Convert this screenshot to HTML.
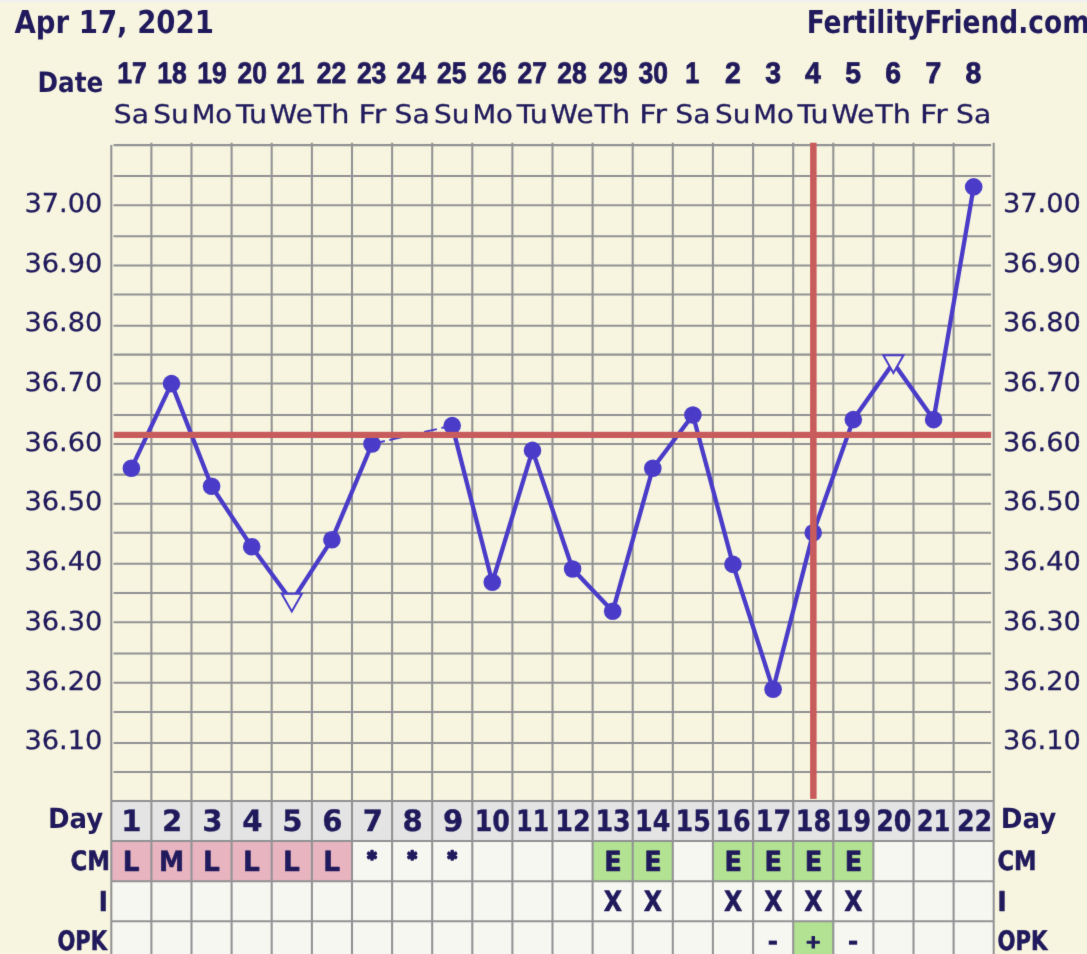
<!DOCTYPE html>
<html lang="en"><head><meta charset="utf-8"><title>FertilityFriend.com chart - Apr 17, 2021</title>
<style>
html,body{margin:0;padding:0;background:#f7f5df;overflow:hidden}
svg{display:block}
text{fill:#201a5c;stroke-linejoin:round;text-rendering:geometricPrecision}
.t{font-family:"DejaVu Sans Condensed","DejaVu Sans","Liberation Sans",sans-serif;font-weight:bold}
.b{font-family:"Liberation Sans","DejaVu Sans",sans-serif;font-weight:bold}
.r{font-family:"DejaVu Sans","Liberation Sans",sans-serif}
.g{stroke:#929294;stroke-width:2.05;fill:none}
</style></head><body>
<svg width="1087" height="954" viewBox="0 0 1087 954">
<defs><filter id="soft" color-interpolation-filters="sRGB" filterUnits="userSpaceOnUse" x="-30" y="-30" width="1147" height="1014"><feConvolveMatrix order="3" kernelMatrix="0.0081 0.0738 0.0081 0.0738 0.6724 0.0738 0.0081 0.0738 0.0081" divisor="1" edgeMode="duplicate" preserveAlpha="true"/></filter></defs>
<g filter="url(#soft)">
<rect x="-30" y="-30" width="1147" height="1014" fill="#f7f5df"/>
<rect x="-30" y="-30" width="1147" height="32" fill="#f0f0f0"/>
<rect x="111.3" y="801.0" width="882.4" height="39.9" fill="#e4e4e4"/>
<rect x="111.3" y="840.9" width="882.4" height="143.1" fill="#f7f7f2"/>
<rect x="111.3" y="840.9" width="240.7" height="40.4" fill="#e8b4c0"/>
<rect x="592.6" y="840.9" width="80.2" height="40.4" fill="#b2e292"/>
<rect x="712.9" y="840.9" width="160.4" height="40.4" fill="#b2e292"/>
<rect x="793.2" y="921.3" width="40.1" height="62.7" fill="#b2e292"/>
<path class="g" d="M113.5 145.1H991.1M113.5 176.0H991.1M113.5 205.2H991.1M113.5 236.2H991.1M113.5 265.4H991.1M113.5 294.4H991.1M113.5 325.7H991.1M113.5 354.6H991.1M113.5 383.4H991.1M113.5 414.9H991.1M113.5 444.0H991.1M113.5 474.6H991.1M113.5 503.8H991.1M113.5 532.7H991.1M113.5 563.8H991.1M113.5 592.9H991.1M113.5 622.2H991.1M113.5 653.5H991.1M113.5 682.8H991.1M113.5 712.0H991.1M113.5 742.9H991.1M113.5 771.9H991.1M111.3 801.0H993.7M111.3 840.9H993.7M111.3 881.3H993.7M111.3 921.3H993.7M151.4 142.7V984M191.5 142.7V984M231.6 142.7V984M271.7 142.7V984M311.9 142.7V984M352.0 142.7V984M392.1 142.7V984M432.2 142.7V984M472.3 142.7V984M512.4 142.7V984M552.5 142.7V984M592.6 142.7V984M632.7 142.7V984M672.8 142.7V984M712.9 142.7V984M753.1 142.7V984M793.2 142.7V984M833.3 142.7V984M873.4 142.7V984M913.5 142.7V984M953.6 142.7V984M111.3 145V984M993.7 142.7V984"/>
<polyline points="131.4,468.3 171.5,383.6 211.6,486.2 251.7,546.7 291.8,601.3 331.9,539.7 372.0,444.0" fill="none" stroke="#4a3cc8" stroke-width="4.3" stroke-linejoin="round"/>
<polyline points="452.2,425.6 492.3,582.3 532.5,450.4 572.6,569.0 612.7,611.3 652.8,468.3 692.9,415.0 733.0,564.4 773.1,689.3 813.2,532.8 853.3,419.6 893.4,362.8 933.6,419.6 973.7,186.9" fill="none" stroke="#4a3cc8" stroke-width="4.3" stroke-linejoin="round"/>
<line x1="372.0" y1="444.0" x2="452.2" y2="425.6" stroke="#4a3cc8" stroke-width="2" stroke-dasharray="13.2 4.6"/>
<circle cx="131.4" cy="468.3" r="8.8" fill="#4a3cc8"/>
<circle cx="171.5" cy="383.6" r="8.8" fill="#4a3cc8"/>
<circle cx="211.6" cy="486.2" r="8.8" fill="#4a3cc8"/>
<circle cx="251.7" cy="546.7" r="8.8" fill="#4a3cc8"/>
<path d="M281.7 593.8L301.9 593.8L291.8 611.4Z" fill="#f7f5df" stroke="#4a3cc8" stroke-width="2"/>
<circle cx="331.9" cy="539.7" r="8.8" fill="#4a3cc8"/>
<circle cx="372.0" cy="444.0" r="8.8" fill="#4a3cc8"/>
<circle cx="452.2" cy="425.6" r="8.8" fill="#4a3cc8"/>
<circle cx="492.3" cy="582.3" r="8.8" fill="#4a3cc8"/>
<circle cx="532.5" cy="450.4" r="8.8" fill="#4a3cc8"/>
<circle cx="572.6" cy="569.0" r="8.8" fill="#4a3cc8"/>
<circle cx="612.7" cy="611.3" r="8.8" fill="#4a3cc8"/>
<circle cx="652.8" cy="468.3" r="8.8" fill="#4a3cc8"/>
<circle cx="692.9" cy="415.0" r="8.8" fill="#4a3cc8"/>
<circle cx="733.0" cy="564.4" r="8.8" fill="#4a3cc8"/>
<circle cx="773.1" cy="689.3" r="8.8" fill="#4a3cc8"/>
<circle cx="813.2" cy="532.8" r="8.8" fill="#4a3cc8"/>
<circle cx="853.3" cy="419.6" r="8.8" fill="#4a3cc8"/>
<path d="M883.3 355.3L903.5 355.3L893.4 372.9Z" fill="#f7f5df" stroke="#4a3cc8" stroke-width="2"/>
<circle cx="933.6" cy="419.6" r="8.8" fill="#4a3cc8"/>
<circle cx="973.7" cy="186.9" r="8.8" fill="#4a3cc8"/>
<rect x="113.7" y="431.8" width="877.4" height="6.2" fill="#c85c5c"/>
<rect x="810.1" y="142.7" width="6.5" height="656.2" fill="#c85c5c"/>
<text class="t" font-size="19" text-anchor="middle" x="372.0" y="864.8" stroke="#201a5c" stroke-width="2.2">*</text>
<text class="t" font-size="19" text-anchor="middle" x="412.1" y="864.8" stroke="#201a5c" stroke-width="2.2">*</text>
<text class="t" font-size="19" text-anchor="middle" x="452.2" y="864.8" stroke="#201a5c" stroke-width="2.2">*</text>
<text class="t" font-size="31.53" transform="translate(14.45 33.44) scale(0.9725 1)">Apr 17, 2021</text>
<text class="t" font-size="31.69" transform="translate(806.70 33.39) scale(0.9276 1)">FertilityFriend.com</text>
<text class="t" font-size="28.05" transform="translate(37.56 91.68) scale(0.9805 1)">Date</text>
<text class="b" font-size="29.90" transform="translate(117.25 83.20) scale(0.8850 1)" stroke="#201a5c" stroke-width="0.84">17</text>
<text class="b" font-size="29.90" transform="translate(157.17 83.20) scale(0.8850 1)" stroke="#201a5c" stroke-width="0.84">18</text>
<text class="b" font-size="29.90" transform="translate(197.34 83.20) scale(0.8850 1)" stroke="#201a5c" stroke-width="0.84">19</text>
<text class="b" font-size="29.90" transform="translate(237.52 83.20) scale(0.8850 1)" stroke="#201a5c" stroke-width="0.84">20</text>
<text class="b" font-size="29.90" transform="translate(276.80 83.20) scale(0.8300 1)" stroke="#201a5c" stroke-width="0.84">21</text>
<text class="b" font-size="29.90" transform="translate(316.84 83.20) scale(0.8850 1)" stroke="#201a5c" stroke-width="0.84">22</text>
<text class="b" font-size="29.90" transform="translate(356.88 83.20) scale(0.8850 1)" stroke="#201a5c" stroke-width="0.84">23</text>
<text class="b" font-size="29.90" transform="translate(396.59 83.20) scale(0.8850 1)" stroke="#201a5c" stroke-width="0.84">24</text>
<text class="b" font-size="29.90" transform="translate(436.97 83.20) scale(0.8850 1)" stroke="#201a5c" stroke-width="0.84">25</text>
<text class="b" font-size="29.90" transform="translate(477.21 83.20) scale(0.8850 1)" stroke="#201a5c" stroke-width="0.84">26</text>
<text class="b" font-size="29.90" transform="translate(517.45 83.20) scale(0.8850 1)" stroke="#201a5c" stroke-width="0.84">27</text>
<text class="b" font-size="29.90" transform="translate(557.36 83.20) scale(0.8850 1)" stroke="#201a5c" stroke-width="0.84">28</text>
<text class="b" font-size="29.90" transform="translate(598.19 83.20) scale(0.8850 1)" stroke="#201a5c" stroke-width="0.84">29</text>
<text class="b" font-size="29.90" transform="translate(638.60 83.20) scale(0.8850 1)" stroke="#201a5c" stroke-width="0.84">30</text>
<text class="b" font-size="29.90" transform="translate(685.20 83.20) scale(0.8500 1)" stroke="#201a5c" stroke-width="0.84">1</text>
<text class="b" font-size="29.90" transform="translate(724.99 83.20) scale(0.9500 1)" stroke="#201a5c" stroke-width="0.84">2</text>
<text class="b" font-size="29.90" transform="translate(765.17 83.20) scale(0.9500 1)" stroke="#201a5c" stroke-width="0.84">3</text>
<text class="b" font-size="29.90" transform="translate(805.00 83.20) scale(0.9500 1)" stroke="#201a5c" stroke-width="0.84">4</text>
<text class="b" font-size="29.90" transform="translate(845.25 83.20) scale(0.9500 1)" stroke="#201a5c" stroke-width="0.84">5</text>
<text class="b" font-size="29.90" transform="translate(885.29 83.20) scale(0.9500 1)" stroke="#201a5c" stroke-width="0.84">6</text>
<text class="b" font-size="29.90" transform="translate(925.47 83.20) scale(0.9500 1)" stroke="#201a5c" stroke-width="0.84">7</text>
<text class="b" font-size="29.90" transform="translate(965.51 83.20) scale(0.9500 1)" stroke="#201a5c" stroke-width="0.84">8</text>
<text class="r" font-size="25.70" transform="translate(113.77 122.60) scale(1.0980 1)" stroke="#201a5c" stroke-width="0.31">Sa</text>
<text class="r" font-size="25.70" transform="translate(153.34 122.60) scale(1.0890 1)" stroke="#201a5c" stroke-width="0.31">Su</text>
<text class="r" font-size="25.70" transform="translate(191.68 122.60) scale(1.0680 1)" stroke="#201a5c" stroke-width="0.31">Mo</text>
<text class="r" font-size="25.70" transform="translate(235.88 122.60) scale(1.1130 1)" stroke="#201a5c" stroke-width="0.31">Tu</text>
<text class="r" font-size="25.70" transform="translate(269.84 122.60) scale(1.0810 1)" stroke="#201a5c" stroke-width="0.31">We</text>
<text class="r" font-size="25.70" transform="translate(313.63 122.60) scale(1.1170 1)" stroke="#201a5c" stroke-width="0.31">Th</text>
<text class="r" font-size="25.70" transform="translate(358.47 122.60) scale(1.1820 1)" stroke="#201a5c" stroke-width="0.31">Fr</text>
<text class="r" font-size="25.70" transform="translate(394.54 122.60) scale(1.0980 1)" stroke="#201a5c" stroke-width="0.31">Sa</text>
<text class="r" font-size="25.70" transform="translate(434.11 122.60) scale(1.0890 1)" stroke="#201a5c" stroke-width="0.31">Su</text>
<text class="r" font-size="25.70" transform="translate(472.45 122.60) scale(1.0680 1)" stroke="#201a5c" stroke-width="0.31">Mo</text>
<text class="r" font-size="25.70" transform="translate(516.65 122.60) scale(1.1130 1)" stroke="#201a5c" stroke-width="0.31">Tu</text>
<text class="r" font-size="25.70" transform="translate(550.61 122.60) scale(1.0810 1)" stroke="#201a5c" stroke-width="0.31">We</text>
<text class="r" font-size="25.70" transform="translate(594.40 122.60) scale(1.1170 1)" stroke="#201a5c" stroke-width="0.31">Th</text>
<text class="r" font-size="25.70" transform="translate(639.24 122.60) scale(1.1820 1)" stroke="#201a5c" stroke-width="0.31">Fr</text>
<text class="r" font-size="25.70" transform="translate(675.31 122.60) scale(1.0980 1)" stroke="#201a5c" stroke-width="0.31">Sa</text>
<text class="r" font-size="25.70" transform="translate(714.88 122.60) scale(1.0890 1)" stroke="#201a5c" stroke-width="0.31">Su</text>
<text class="r" font-size="25.70" transform="translate(753.22 122.60) scale(1.0680 1)" stroke="#201a5c" stroke-width="0.31">Mo</text>
<text class="r" font-size="25.70" transform="translate(797.42 122.60) scale(1.1130 1)" stroke="#201a5c" stroke-width="0.31">Tu</text>
<text class="r" font-size="25.70" transform="translate(831.38 122.60) scale(1.0810 1)" stroke="#201a5c" stroke-width="0.31">We</text>
<text class="r" font-size="25.70" transform="translate(875.17 122.60) scale(1.1170 1)" stroke="#201a5c" stroke-width="0.31">Th</text>
<text class="r" font-size="25.70" transform="translate(920.01 122.60) scale(1.1820 1)" stroke="#201a5c" stroke-width="0.31">Fr</text>
<text class="r" font-size="25.70" transform="translate(956.08 122.60) scale(1.0980 1)" stroke="#201a5c" stroke-width="0.31">Sa</text>
<text class="r" font-size="26.10" transform="translate(24.39 211.78) scale(1.0426 1)" stroke="#201a5c" stroke-width="0.31">37.00</text>
<text class="r" font-size="26.10" transform="translate(1002.99 211.78) scale(1.0426 1)" stroke="#201a5c" stroke-width="0.31">37.00</text>
<text class="r" font-size="26.10" transform="translate(24.39 271.50) scale(1.0426 1)" stroke="#201a5c" stroke-width="0.31">36.90</text>
<text class="r" font-size="26.10" transform="translate(1002.99 271.50) scale(1.0426 1)" stroke="#201a5c" stroke-width="0.31">36.90</text>
<text class="r" font-size="26.10" transform="translate(24.39 331.22) scale(1.0426 1)" stroke="#201a5c" stroke-width="0.31">36.80</text>
<text class="r" font-size="26.10" transform="translate(1002.99 331.22) scale(1.0426 1)" stroke="#201a5c" stroke-width="0.31">36.80</text>
<text class="r" font-size="26.10" transform="translate(24.39 390.94) scale(1.0426 1)" stroke="#201a5c" stroke-width="0.31">36.70</text>
<text class="r" font-size="26.10" transform="translate(1002.99 390.94) scale(1.0426 1)" stroke="#201a5c" stroke-width="0.31">36.70</text>
<text class="r" font-size="26.10" transform="translate(24.39 450.66) scale(1.0426 1)" stroke="#201a5c" stroke-width="0.31">36.60</text>
<text class="r" font-size="26.10" transform="translate(1002.99 450.66) scale(1.0426 1)" stroke="#201a5c" stroke-width="0.31">36.60</text>
<text class="r" font-size="26.10" transform="translate(24.39 510.38) scale(1.0426 1)" stroke="#201a5c" stroke-width="0.31">36.50</text>
<text class="r" font-size="26.10" transform="translate(1002.99 510.38) scale(1.0426 1)" stroke="#201a5c" stroke-width="0.31">36.50</text>
<text class="r" font-size="26.10" transform="translate(24.39 570.10) scale(1.0426 1)" stroke="#201a5c" stroke-width="0.31">36.40</text>
<text class="r" font-size="26.10" transform="translate(1002.99 570.10) scale(1.0426 1)" stroke="#201a5c" stroke-width="0.31">36.40</text>
<text class="r" font-size="26.10" transform="translate(24.39 629.82) scale(1.0426 1)" stroke="#201a5c" stroke-width="0.31">36.30</text>
<text class="r" font-size="26.10" transform="translate(1002.99 629.82) scale(1.0426 1)" stroke="#201a5c" stroke-width="0.31">36.30</text>
<text class="r" font-size="26.10" transform="translate(24.39 689.54) scale(1.0426 1)" stroke="#201a5c" stroke-width="0.31">36.20</text>
<text class="r" font-size="26.10" transform="translate(1002.99 689.54) scale(1.0426 1)" stroke="#201a5c" stroke-width="0.31">36.20</text>
<text class="r" font-size="26.10" transform="translate(24.39 749.26) scale(1.0426 1)" stroke="#201a5c" stroke-width="0.31">36.10</text>
<text class="r" font-size="26.10" transform="translate(1002.99 749.26) scale(1.0426 1)" stroke="#201a5c" stroke-width="0.31">36.10</text>
<text class="t" font-size="29.40" transform="translate(121.20 831.00) scale(1.1000 1)" stroke="#201a5c" stroke-width="0.35">1</text>
<text class="t" font-size="29.40" transform="translate(162.04 831.00) scale(1.1000 1)" stroke="#201a5c" stroke-width="0.35">2</text>
<text class="t" font-size="29.40" transform="translate(202.23 831.00) scale(1.1000 1)" stroke="#201a5c" stroke-width="0.35">3</text>
<text class="t" font-size="29.40" transform="translate(242.18 831.00) scale(1.1000 1)" stroke="#201a5c" stroke-width="0.35">4</text>
<text class="t" font-size="29.40" transform="translate(282.13 831.00) scale(1.1000 1)" stroke="#201a5c" stroke-width="0.35">5</text>
<text class="t" font-size="29.40" transform="translate(322.24 831.00) scale(1.1000 1)" stroke="#201a5c" stroke-width="0.35">6</text>
<text class="t" font-size="29.40" transform="translate(362.67 831.00) scale(1.1000 1)" stroke="#201a5c" stroke-width="0.35">7</text>
<text class="t" font-size="29.40" transform="translate(402.62 831.00) scale(1.1000 1)" stroke="#201a5c" stroke-width="0.35">8</text>
<text class="t" font-size="29.40" transform="translate(442.89 831.00) scale(1.1000 1)" stroke="#201a5c" stroke-width="0.35">9</text>
<text class="t" font-size="29.40" transform="translate(474.66 831.00) scale(0.9600 1)" stroke="#201a5c" stroke-width="0.35">10</text>
<text class="t" font-size="29.40" transform="translate(516.28 831.00) scale(0.8900 1)" stroke="#201a5c" stroke-width="0.35">11</text>
<text class="t" font-size="29.40" transform="translate(555.37 831.00) scale(0.9600 1)" stroke="#201a5c" stroke-width="0.35">12</text>
<text class="t" font-size="29.40" transform="translate(595.41 831.00) scale(0.9600 1)" stroke="#201a5c" stroke-width="0.35">13</text>
<text class="t" font-size="29.40" transform="translate(635.10 831.00) scale(0.9600 1)" stroke="#201a5c" stroke-width="0.35">14</text>
<text class="t" font-size="29.40" transform="translate(675.49 831.00) scale(0.9600 1)" stroke="#201a5c" stroke-width="0.35">15</text>
<text class="t" font-size="29.40" transform="translate(715.39 831.00) scale(0.9600 1)" stroke="#201a5c" stroke-width="0.35">16</text>
<text class="t" font-size="29.40" transform="translate(755.85 831.00) scale(0.9600 1)" stroke="#201a5c" stroke-width="0.35">17</text>
<text class="t" font-size="29.40" transform="translate(795.75 831.00) scale(0.9600 1)" stroke="#201a5c" stroke-width="0.35">18</text>
<text class="t" font-size="29.40" transform="translate(835.86 831.00) scale(0.9600 1)" stroke="#201a5c" stroke-width="0.35">19</text>
<text class="t" font-size="29.40" transform="translate(876.18 831.00) scale(0.9600 1)" stroke="#201a5c" stroke-width="0.35">20</text>
<text class="t" font-size="29.40" transform="translate(916.71 831.00) scale(0.9150 1)" stroke="#201a5c" stroke-width="0.35">21</text>
<text class="t" font-size="29.40" transform="translate(956.90 831.00) scale(0.9600 1)" stroke="#201a5c" stroke-width="0.35">22</text>
<text class="t" font-size="27.87" transform="translate(122.66 870.72) scale(1.0507 1)" stroke="#201a5c" stroke-width="0.56">L</text>
<text class="t" font-size="27.87" transform="translate(159.11 870.72) scale(1.0067 1)" stroke="#201a5c" stroke-width="0.56">M</text>
<text class="t" font-size="27.87" transform="translate(202.88 870.72) scale(1.0507 1)" stroke="#201a5c" stroke-width="0.56">L</text>
<text class="t" font-size="27.87" transform="translate(242.99 870.72) scale(1.0507 1)" stroke="#201a5c" stroke-width="0.56">L</text>
<text class="t" font-size="27.87" transform="translate(283.10 870.72) scale(1.0507 1)" stroke="#201a5c" stroke-width="0.56">L</text>
<text class="t" font-size="27.87" transform="translate(323.21 870.72) scale(1.0507 1)" stroke="#201a5c" stroke-width="0.56">L</text>
<text class="t" font-size="27.87" transform="translate(604.14 870.72) scale(1.0211 1)" stroke="#201a5c" stroke-width="0.56">E</text>
<text class="t" font-size="27.87" transform="translate(644.25 870.72) scale(1.0211 1)" stroke="#201a5c" stroke-width="0.56">E</text>
<text class="t" font-size="27.87" transform="translate(724.47 870.72) scale(1.0211 1)" stroke="#201a5c" stroke-width="0.56">E</text>
<text class="t" font-size="27.87" transform="translate(764.58 870.72) scale(1.0211 1)" stroke="#201a5c" stroke-width="0.56">E</text>
<text class="t" font-size="27.87" transform="translate(804.69 870.72) scale(1.0211 1)" stroke="#201a5c" stroke-width="0.56">E</text>
<text class="t" font-size="27.87" transform="translate(844.80 870.72) scale(1.0211 1)" stroke="#201a5c" stroke-width="0.56">E</text>
<text class="t" font-size="28.00" transform="translate(603.71 911.02) scale(0.9418 1)" stroke="#201a5c" stroke-width="0.56">X</text>
<text class="t" font-size="28.00" transform="translate(643.82 911.02) scale(0.9418 1)" stroke="#201a5c" stroke-width="0.56">X</text>
<text class="t" font-size="28.00" transform="translate(724.04 911.02) scale(0.9418 1)" stroke="#201a5c" stroke-width="0.56">X</text>
<text class="t" font-size="28.00" transform="translate(764.15 911.02) scale(0.9418 1)" stroke="#201a5c" stroke-width="0.56">X</text>
<text class="t" font-size="28.00" transform="translate(804.26 911.02) scale(0.9418 1)" stroke="#201a5c" stroke-width="0.56">X</text>
<text class="t" font-size="28.00" transform="translate(844.37 911.02) scale(0.9418 1)" stroke="#201a5c" stroke-width="0.56">X</text>
<text class="t" font-size="28.97" transform="translate(767.32 951.03) scale(1.0294 1)">-</text>
<text class="t" font-size="18.25" transform="translate(805.29 947.85) scale(1.1661 1)" stroke="#201a5c" stroke-width="1.09">+</text>
<text class="t" font-size="28.97" transform="translate(847.54 951.03) scale(1.0294 1)">-</text>
<text class="t" font-size="27.83" transform="translate(48.04 828.32) scale(1.0382 1)">Day</text>
<text class="t" font-size="26.71" transform="translate(70.41 870.33) scale(0.9509 1)" stroke="#201a5c" stroke-width="0.53">CM</text>
<text class="t" font-size="27.33" transform="translate(98.77 910.53) scale(0.9888 1)" stroke="#201a5c" stroke-width="0.55">I</text>
<text class="t" font-size="26.97" transform="translate(57.48 950.33) scale(0.8673 1)" stroke="#201a5c" stroke-width="0.54">OPK</text>
<text class="t" font-size="27.83" transform="translate(1000.73 828.32) scale(1.0442 1)">Day</text>
<text class="t" font-size="26.71" transform="translate(997.42 870.33) scale(0.9379 1)" stroke="#201a5c" stroke-width="0.53">CM</text>
<text class="t" font-size="27.33" transform="translate(997.47 910.53) scale(0.9888 1)" stroke="#201a5c" stroke-width="0.55">I</text>
<text class="t" font-size="26.97" transform="translate(997.48 950.33) scale(0.8725 1)" stroke="#201a5c" stroke-width="0.54">OPK</text>
</g>
</svg>
</body></html>
